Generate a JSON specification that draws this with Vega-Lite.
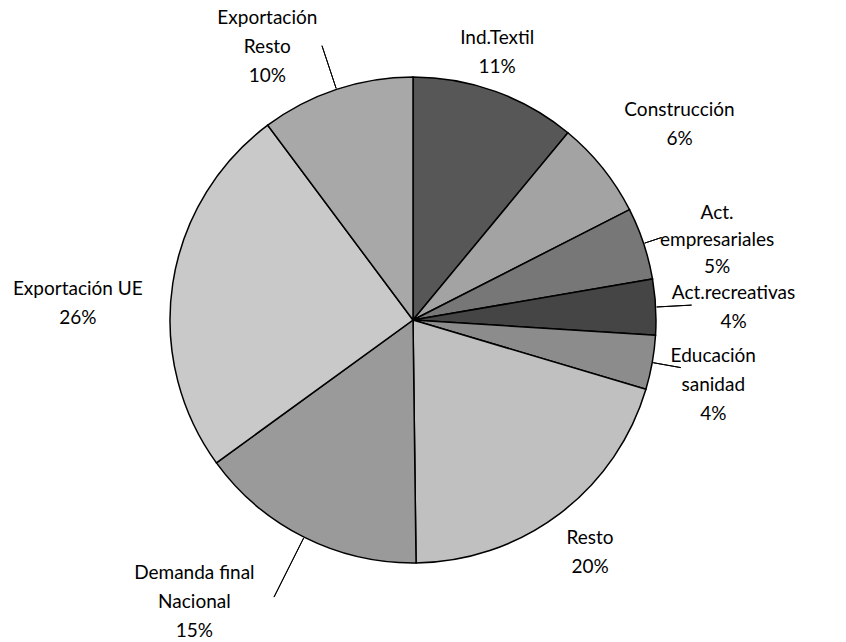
{
  "$schema": "https://vega.github.io/schema/vega-lite/v6.json",
  "width": 826,
  "height": 640,
  "autosize": {"type": "none"},
  "padding": {"left": 0, "top": 0, "right": 20, "bottom": 2},
  "background": "white",
  "config": {"view": {"stroke": null}, "text": {"font": "Lato", "fontSize": 19}},
  "data": {
    "values": [
      {"i": 1, "cat": "Ind.Textil", "v": 11.0, "label": "Ind.Textil\n11%"},
      {"i": 2, "cat": "Construcción", "v": 6.5, "label": "Construcción\n6%"},
      {"i": 3, "cat": "Act. empresariales", "v": 4.8, "label": "Act.\nempresariales\n5%"},
      {"i": 4, "cat": "Act.recreativas", "v": 3.7, "label": "Act.recreativas\n4%"},
      {"i": 5, "cat": "Educación sanidad", "v": 3.6, "label": "Educación\nsanidad\n4%"},
      {"i": 6, "cat": "Resto", "v": 20.2, "label": "Resto\n20%"},
      {"i": 7, "cat": "Demanda final Nacional", "v": 15.2, "label": "Demanda final\nNacional\n15%"},
      {"i": 8, "cat": "Exportación UE", "v": 24.8, "label": "Exportación UE\n26%"},
      {"i": 9, "cat": "Exportación Resto", "v": 10.2, "label": "Exportación\nResto\n10%"}
    ]
  },
  "encoding": {
    "theta": {"field": "v", "type": "quantitative", "stack": true},
    "order": {"field": "i", "type": "quantitative"}
  },
  "layer": [
    {
      "mark": {"type": "arc", "outerRadius": 243, "stroke": "black", "strokeWidth": 1.5},
      "encoding": {
        "color": {
          "field": "cat", "type": "nominal", "legend": null,
          "scale": {
            "domain": ["Ind.Textil", "Construcción", "Act. empresariales", "Act.recreativas", "Educación sanidad", "Resto", "Demanda final Nacional", "Exportación UE", "Exportación Resto"],
            "range": ["#575757", "#a3a3a3", "#777777", "#454545", "#8c8c8c", "#c0c0c0", "#9a9a9a", "#c9c9c9", "#a8a8a8"]
          }
        }
      }
    },
    {
      "mark": {"type": "arc", "innerRadius": 244, "outerRadius": 289, "padAngle": 1.0, "filled": false, "strokeWidth": 1},
      "encoding": {"detail": {"field": "cat"}, "stroke": {"condition": {"test": "datum.cat === 'Exportación Resto'", "value": "black"}, "value": "transparent"}}
    },
    {
      "mark": {"type": "arc", "innerRadius": 244, "outerRadius": 262, "padAngle": 1.0, "filled": false, "strokeWidth": 1},
      "encoding": {"detail": {"field": "cat"}, "stroke": {"condition": {"test": "datum.cat === 'Act. empresariales'", "value": "black"}, "value": "transparent"}}
    },
    {
      "mark": {"type": "arc", "innerRadius": 244, "outerRadius": 279, "padAngle": 1.0, "filled": false, "strokeWidth": 1},
      "encoding": {"detail": {"field": "cat"}, "stroke": {"condition": {"test": "datum.cat === 'Act.recreativas'", "value": "black"}, "value": "transparent"}}
    },
    {
      "mark": {"type": "arc", "innerRadius": 244, "outerRadius": 272, "padAngle": 1.0, "filled": false, "strokeWidth": 1},
      "encoding": {"detail": {"field": "cat"}, "stroke": {"condition": {"test": "datum.cat === 'Educación sanidad'", "value": "black"}, "value": "transparent"}}
    },
    {
      "mark": {"type": "arc", "innerRadius": 244, "outerRadius": 310, "padAngle": 1.0, "filled": false, "strokeWidth": 1},
      "encoding": {"detail": {"field": "cat"}, "stroke": {"condition": {"test": "datum.cat === 'Demanda final Nacional'", "value": "black"}, "value": "transparent"}}
    },
    {
      "mark": {"type": "text", "radius": 281, "dx": -11, "dy": -18, "lineBreak": "\n", "lineHeight": 29, "align": "center", "baseline": "middle", "fill": "black"},
      "encoding": {"detail": {"field": "cat"}, "text": {"condition": {"test": "datum.cat === 'Ind.Textil'", "field": "label"}, "value": ""}}
    },
    {
      "mark": {"type": "text", "radius": 330, "dx": 9, "dy": -4, "lineBreak": "\n", "lineHeight": 29, "align": "center", "baseline": "middle", "fill": "black"},
      "encoding": {"detail": {"field": "cat"}, "text": {"condition": {"test": "datum.cat === 'Construcción'", "field": "label"}, "value": ""}}
    },
    {
      "mark": {"type": "text", "radius": 313, "dx": 7, "dy": -8, "lineBreak": "\n", "lineHeight": 27, "align": "center", "baseline": "middle", "fill": "black"},
      "encoding": {"detail": {"field": "cat"}, "text": {"condition": {"test": "datum.cat === 'Act. empresariales'", "field": "label"}, "value": ""}}
    },
    {
      "mark": {"type": "text", "radius": 321, "dx": 0, "dy": -10, "lineBreak": "\n", "lineHeight": 29, "align": "center", "baseline": "middle", "fill": "black"},
      "encoding": {"detail": {"field": "cat"}, "text": {"condition": {"test": "datum.cat === 'Act.recreativas'", "field": "label"}, "value": ""}}
    },
    {
      "mark": {"type": "text", "radius": 307, "dx": -2, "dy": -18, "lineBreak": "\n", "lineHeight": 29, "align": "center", "baseline": "middle", "fill": "black"},
      "encoding": {"detail": {"field": "cat"}, "text": {"condition": {"test": "datum.cat === 'Educación sanidad'", "field": "label"}, "value": ""}}
    },
    {
      "mark": {"type": "text", "radius": 292, "dx": 1, "dy": -15, "lineBreak": "\n", "lineHeight": 29, "align": "center", "baseline": "middle", "fill": "black"},
      "encoding": {"detail": {"field": "cat"}, "text": {"condition": {"test": "datum.cat === 'Resto'", "field": "label"}, "value": ""}}
    },
    {
      "mark": {"type": "text", "radius": 356, "dx": -59, "dy": -65, "lineBreak": "\n", "lineHeight": 29, "align": "center", "baseline": "middle", "fill": "black"},
      "encoding": {"detail": {"field": "cat"}, "text": {"condition": {"test": "datum.cat === 'Demanda final Nacional'", "field": "label"}, "value": ""}}
    },
    {
      "mark": {"type": "text", "radius": 335, "dx": -4, "dy": 19, "lineBreak": "\n", "lineHeight": 29, "align": "center", "baseline": "middle", "fill": "black"},
      "encoding": {"detail": {"field": "cat"}, "text": {"condition": {"test": "datum.cat === 'Exportación UE'", "field": "label"}, "value": ""}}
    },
    {
      "mark": {"type": "text", "radius": 310, "dx": -48, "dy": -8, "lineBreak": "\n", "lineHeight": 29, "align": "center", "baseline": "middle", "fill": "black"},
      "encoding": {"detail": {"field": "cat"}, "text": {"condition": {"test": "datum.cat === 'Exportación Resto'", "field": "label"}, "value": ""}}
    }
  ]
}
